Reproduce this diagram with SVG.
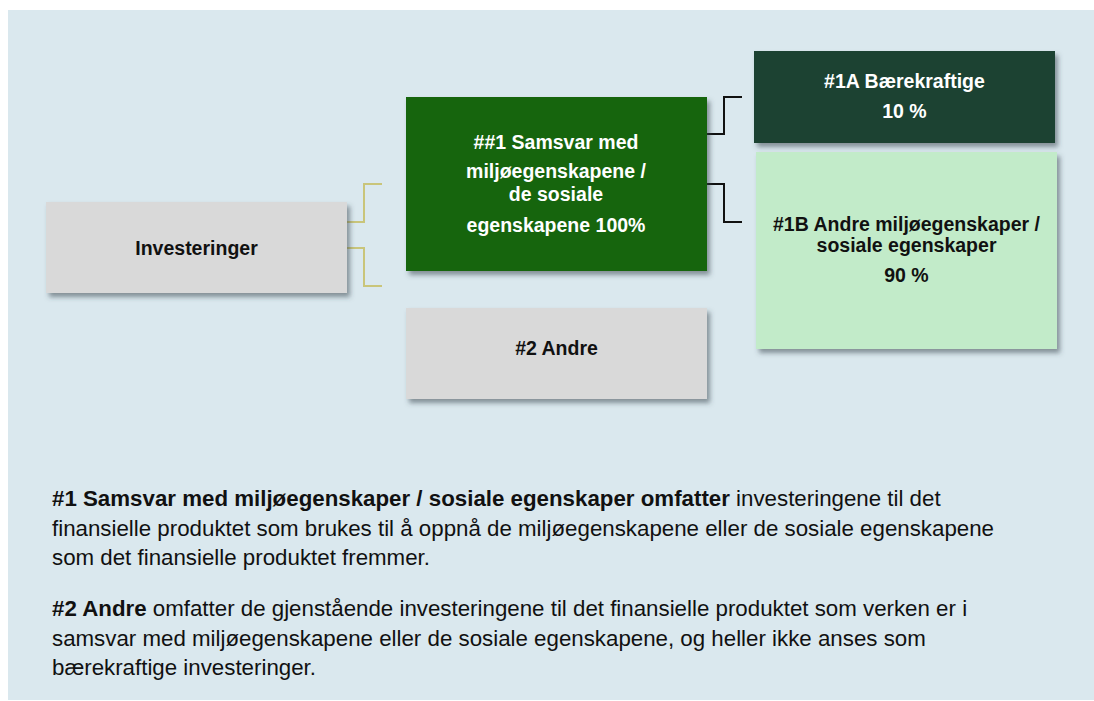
<svg xmlns="http://www.w3.org/2000/svg" width="1094" height="701" viewBox="0 0 1094 701">
<defs>
<filter id="sh" x="-10%" y="-10%" width="130%" height="140%">
<feDropShadow dx="3" dy="4" stdDeviation="2.5" flood-color="#3a4a50" flood-opacity="0.55"/>
</filter>
</defs>
<style>
.lbl{font-family:"Liberation Sans",Arial,sans-serif;font-size:19.5px;font-weight:bold;text-anchor:middle}
.w{fill:#ffffff}
.k{fill:#111111}
.body{font-family:"Liberation Sans",Arial,sans-serif;font-size:22.3px;fill:#111111}
.b{font-weight:bold}
.cy{fill:none;stroke:#c9c57a;stroke-width:2}
.ck{fill:none;stroke:#111111;stroke-width:2}
</style>
<rect x="8" y="10" width="1086" height="690" fill="#dae8ee"/>
<g id="connectors">
<polyline class="cy" points="347,222 364,222 364,184 382,184"/>
<polyline class="cy" points="347,248 364,248 364,286 382,286"/>
<polyline class="ck" points="707,134 724,134 724,97 742,97"/>
<polyline class="ck" points="707,184 724,184 724,222 742,222"/>
</g>
<g id="investeringer">
<rect x="46" y="202" width="301" height="91" fill="#d9d9d9" filter="url(#sh)"/>
<text class="lbl k" x="196.5" y="255">Investeringer</text>
</g>
<g id="n1">
<rect x="406" y="97" width="301" height="174" fill="#166508" filter="url(#sh)"/>
<text class="lbl w" x="556" y="149">##1 Samsvar med</text>
<text class="lbl w" x="556" y="178">miljøegenskapene /</text>
<text class="lbl w" x="556" y="201">de sosiale</text>
<text class="lbl w" x="556" y="232">egenskapene 100%</text>
</g>
<g id="n1a">
<rect x="754" y="51" width="301" height="92" fill="#1e4230" filter="url(#sh)"/>
<text class="lbl w" x="904.5" y="88">#1A Bærekraftige</text>
<text class="lbl w" x="904.5" y="118">10 %</text>
</g>
<g id="n1b">
<rect x="756" y="152" width="301" height="197" fill="#c2ebc9" filter="url(#sh)"/>
<text class="lbl k" x="906.5" y="231">#1B Andre miljøegenskaper /</text>
<text class="lbl k" x="906.5" y="252">sosiale egenskaper</text>
<text class="lbl k" x="906.5" y="282">90 %</text>
</g>
<g id="n2">
<rect x="406" y="308" width="301" height="91" fill="#d9d9d9" filter="url(#sh)"/>
<text class="lbl k" x="556.5" y="355">#2 Andre</text>
</g>
<g id="legend">
<text class="body" x="52" y="506"><tspan class="b">#1 Samsvar med miljøegenskaper / sosiale egenskaper omfatter</tspan> investeringene til det</text>
<text class="body" x="52" y="535.5">finansielle produktet som brukes til å oppnå de miljøegenskapene eller de sosiale egenskapene</text>
<text class="body" x="52" y="565">som det finansielle produktet fremmer.</text>
<text class="body" x="52" y="616"><tspan class="b">#2 Andre</tspan> omfatter de gjenstående investeringene til det finansielle produktet som verken er i</text>
<text class="body" x="52" y="645.5">samsvar med miljøegenskapene eller de sosiale egenskapene, og heller ikke anses som</text>
<text class="body" x="52" y="675">bærekraftige investeringer.</text>
</g>
</svg>
